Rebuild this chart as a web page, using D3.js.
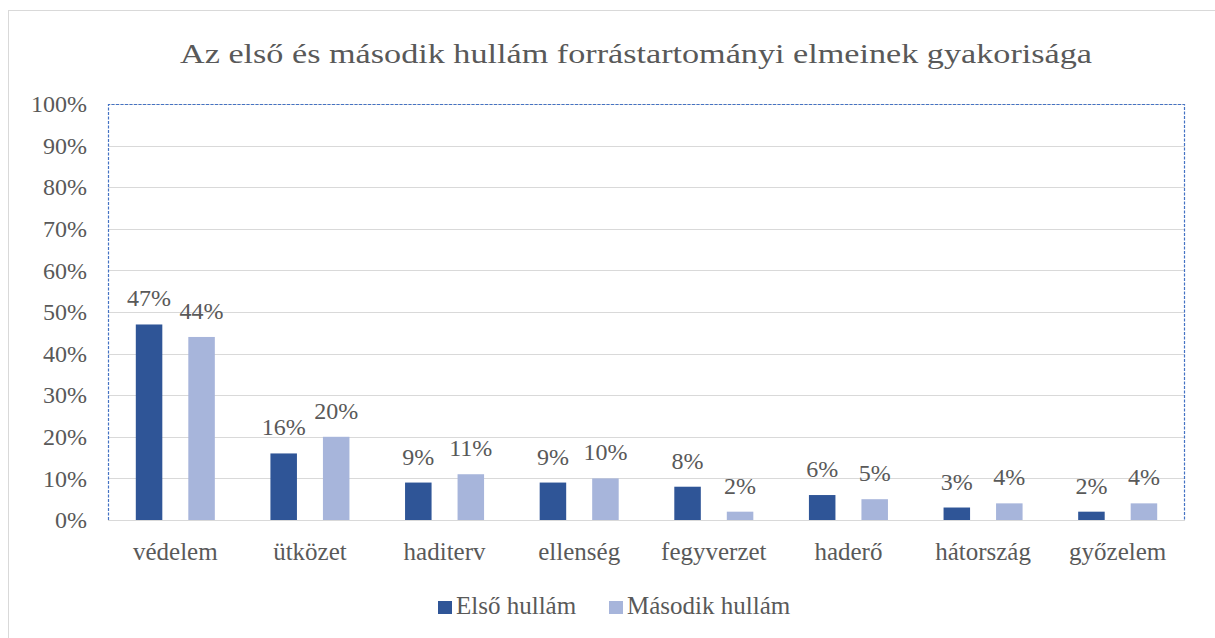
<!DOCTYPE html>
<html>
<head>
<meta charset="utf-8">
<script src="https://cdn.jsdelivr.net/npm/d3@7"></script>
<style>
  html, body { margin: 0; padding: 0; background: #fff; }
  svg { display: block; }
  svg text { font-family: "Liberation Serif", "Times New Roman", serif; }
</style>
</head>
<body>
<svg id="chart" width="1215" height="638"></svg>
<script>
const title = 'Az első és második hullám forrástartományi elmeinek gyakorisága';
const categories = ['védelem', 'ütközet', 'haditerv', 'ellenség', 'fegyverzet', 'haderő', 'hátország', 'győzelem'];
const seriesNames = ['Első hullám', 'Második hullám'];
const firstWave = [47, 16, 9, 9, 8, 6, 3, 2];
const secondWave = [44, 20, 11, 10, 2, 5, 4, 4];
const yTicks = [0, 10, 20, 30, 40, 50, 60, 70, 80, 90, 100];
const colors = ['#2f5597', '#a7b5db'];

const svg = d3.select('#chart');
const textColor = '#595959';
const plot = { left: 108, right: 1185, top: 104, bottom: 520 };

// outer chart frame (only left/top visible in the crop)
svg.append('rect').attr('x', 8.5).attr('y', 10.5).attr('width', 1230).attr('height', 660)
  .attr('fill', 'none').attr('stroke', '#d9d9d9');

svg.append('text').attr('x', 180).attr('y', 63)
  .attr('font-size', 28).attr('fill', textColor)
  .attr('textLength', 912).attr('lengthAdjust', 'spacingAndGlyphs')
  .text(title);

const y = d3.scaleLinear().domain([0, 100]).range([plot.bottom, plot.top]);
const x0 = d3.scaleBand().domain(categories).range([plot.left, plot.right])
  .paddingInner(0.413).paddingOuter(0.2065);
const x1 = d3.scaleBand().domain(seriesNames).range([0, x0.bandwidth()]).paddingInner(0.495);

// gridlines
svg.append('g').selectAll('line').data(yTicks).join('line')
  .attr('x1', plot.left).attr('x2', plot.right)
  .attr('y1', (d) => Math.round(y(d)) + 0.5).attr('y2', (d) => Math.round(y(d)) + 0.5)
  .attr('stroke', '#d9d9d9').attr('stroke-width', 1);

// y axis labels
const yAxis = d3.axisLeft(y).tickValues(yTicks).tickFormat((d) => `${d}%`).tickSize(0).tickPadding(21);
const yg = svg.append('g').attr('transform', `translate(${plot.left},0)`).call(yAxis);
yg.select('.domain').remove();
yg.selectAll('text').attr('font-size', 24).attr('fill', textColor);

// bars
const rows = categories.map((category, i) => ({ category, values: [firstWave[i], secondWave[i]] }));
const groups = svg.append('g').selectAll('g').data(rows).join('g')
  .attr('transform', (d) => `translate(${x0(d.category)},0)`);
groups.selectAll('rect').data((d) => d.values.map((value, s) => ({ value, s }))).join('rect')
  .attr('x', (d) => x1(seriesNames[d.s]))
  .attr('width', x1.bandwidth())
  .attr('y', (d) => y(d.value))
  .attr('height', (d) => y(0) - y(d.value))
  .attr('fill', (d) => colors[d.s]);
groups.selectAll('text').data((d) => d.values.map((value, s) => ({ value, s }))).join('text')
  .attr('x', (d) => x1(seriesNames[d.s]) + x1.bandwidth() / 2)
  .attr('y', (d) => y(d.value) - 18)
  .attr('text-anchor', 'middle').attr('font-size', 24).attr('fill', textColor)
  .text((d) => `${d.value}%`);

// x axis
const xAxis = d3.axisBottom(x0).tickSize(0).tickPadding(22);
const xg = svg.append('g').attr('transform', `translate(0,${plot.bottom})`).call(xAxis);
xg.select('.domain').remove();
xg.selectAll('text').attr('font-size', 25).attr('fill', textColor);

svg.append('line').attr('x1', plot.left).attr('x2', plot.right)
  .attr('y1', plot.bottom + 0.5).attr('y2', plot.bottom + 0.5).attr('stroke', '#d9d9d9');

// selected plot-area outline
svg.append('path')
  .attr('d', `M${plot.left + 0.5},${plot.bottom}V${plot.top + 0.5}H${plot.right - 0.5}V${plot.bottom}`)
  .attr('fill', 'none').attr('stroke', '#4472c4').attr('stroke-width', 1.2)
  .attr('stroke-dasharray', '3,1.5');

// legend
const legendX = [438, 609];
const legend = svg.append('g').selectAll('g').data(seriesNames).join('g')
  .attr('transform', (d, i) => `translate(${legendX[i]},601)`);
legend.append('rect').attr('width', 14).attr('height', 13).attr('fill', (d, i) => colors[i]);
legend.append('text').attr('x', 18).attr('y', 13).attr('font-size', 25).attr('fill', textColor).text((d) => d);
</script>
</body>
</html>
